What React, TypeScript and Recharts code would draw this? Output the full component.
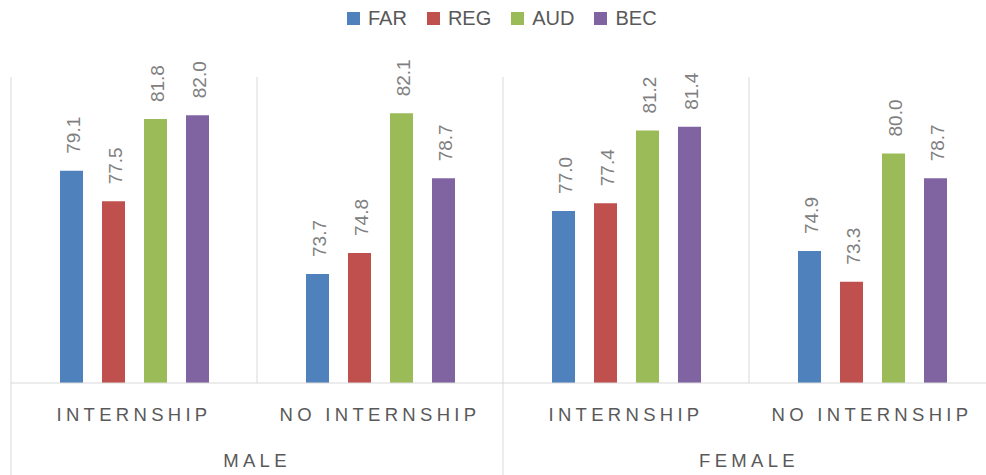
import React from "react";
import { BarChart, Bar, XAxis, YAxis, Legend, LabelList } from "recharts";

const categories = ["INTERNSHIP", "NO INTERNSHIP", "INTERNSHIP", "NO INTERNSHIP"];
const groups = ["MALE", "FEMALE"];
const seriesNames = ["FAR", "REG", "AUD", "BEC"];
const seriesColors = ["#4F81BD", "#C0504D", "#9BBB59", "#8064A2"];
const farValues = [79.1, 73.7, 77.0, 74.9];
const regValues = [77.5, 74.8, 77.4, 73.3];
const audValues = [81.8, 82.1, 81.2, 80.0];
const becValues = [82.0, 78.7, 81.4, 78.7];
const yDomain = [68, 84];

const data = categories.map((c, i) => ({
  id: String(i),
  FAR: farValues[i],
  REG: regValues[i],
  AUD: audValues[i],
  BEC: becValues[i],
}));

const W = 1000;
const H = 475;
const M = { top: 77, right: 5, bottom: 0, left: 11 };
const XH = 92;
const PLOT_W = W - M.left - M.right;
const BW = PLOT_W / categories.length;
const PLOT_TOP = M.top;
const FONT = "'Liberation Sans', Arial, sans-serif";
const GRID = "#d9d9d9";

const Tick = (props: any) => {
  const { x, y, index } = props;
  const left = x - BW / 2;
  const isGroupStart = index % 2 === 0;
  return (
    <g>
      <line x1={left} x2={left} y1={PLOT_TOP} y2={isGroupStart ? H : y} stroke={GRID} strokeWidth={1} />
      {index === categories.length - 1 && (
        <line x1={x + BW / 2} x2={x + BW / 2} y1={PLOT_TOP} y2={H} stroke={GRID} strokeWidth={1} />
      )}
      <text x={x} y={y + 38} textAnchor="middle" fill="#595959" fontSize={18.5} fontFamily={FONT} letterSpacing={4.3}>
        {categories[index]}
      </text>
      {isGroupStart && (
        <text x={x + BW / 2} y={y + 84} textAnchor="middle" fill="#595959" fontSize={18.5} fontFamily={FONT} letterSpacing={4.3}>
          {groups[index / 2]}
        </text>
      )}
    </g>
  );
};

const ValueLabel = (props: any) => {
  const { x, y, width, value } = props;
  const cx = x + width / 2 + 2;
  const ty = y - 17;
  return (
    <text
      x={cx}
      y={ty}
      transform={`rotate(-90, ${cx}, ${ty})`}
      textAnchor="start"
      dominantBaseline="central"
      fill="#808080"
      fontSize={19}
      fontFamily={FONT}
    >
      {Number(value).toFixed(1)}
    </text>
  );
};

const LegendContent = () => (
  <div style={{ display: "flex", alignItems: "center", fontFamily: FONT, fontSize: 20, color: "#595959" }}>
    {seriesNames.map((n, i) => (
      <div key={n} style={{ display: "flex", alignItems: "center", marginRight: 20 }}>
        <span style={{ display: "inline-block", width: 13, height: 13, background: seriesColors[i], marginRight: 8 }} />
        <span>{n}</span>
      </div>
    ))}
  </div>
);

export default function App() {
  return (
    <div style={{ position: "absolute", left: 0, top: 0, width: 986, height: 475, overflow: "hidden", background: "#fff" }}>
      <BarChart width={W} height={H} data={data} margin={M} barSize={23} barGap={19}>
        <XAxis
          dataKey="id"
          height={XH}
          tick={<Tick />}
          tickLine={false}
          tickSize={0}
          tickMargin={0}
          axisLine={{ stroke: GRID }}
          interval={0}
        />
        <YAxis hide domain={yDomain} allowDataOverflow />
        <Legend
          layout="horizontal"
          verticalAlign="middle"
          align="center"
          content={<LegendContent />}
          wrapperStyle={{ top: 7, left: 347, width: 400, height: 26 }}
        />
        {seriesNames.map((n, i) => (
          <Bar key={n} dataKey={n} fill={seriesColors[i]} isAnimationActive={false}>
            <LabelList dataKey={n} content={<ValueLabel />} />
          </Bar>
        ))}
      </BarChart>
    </div>
  );
}
